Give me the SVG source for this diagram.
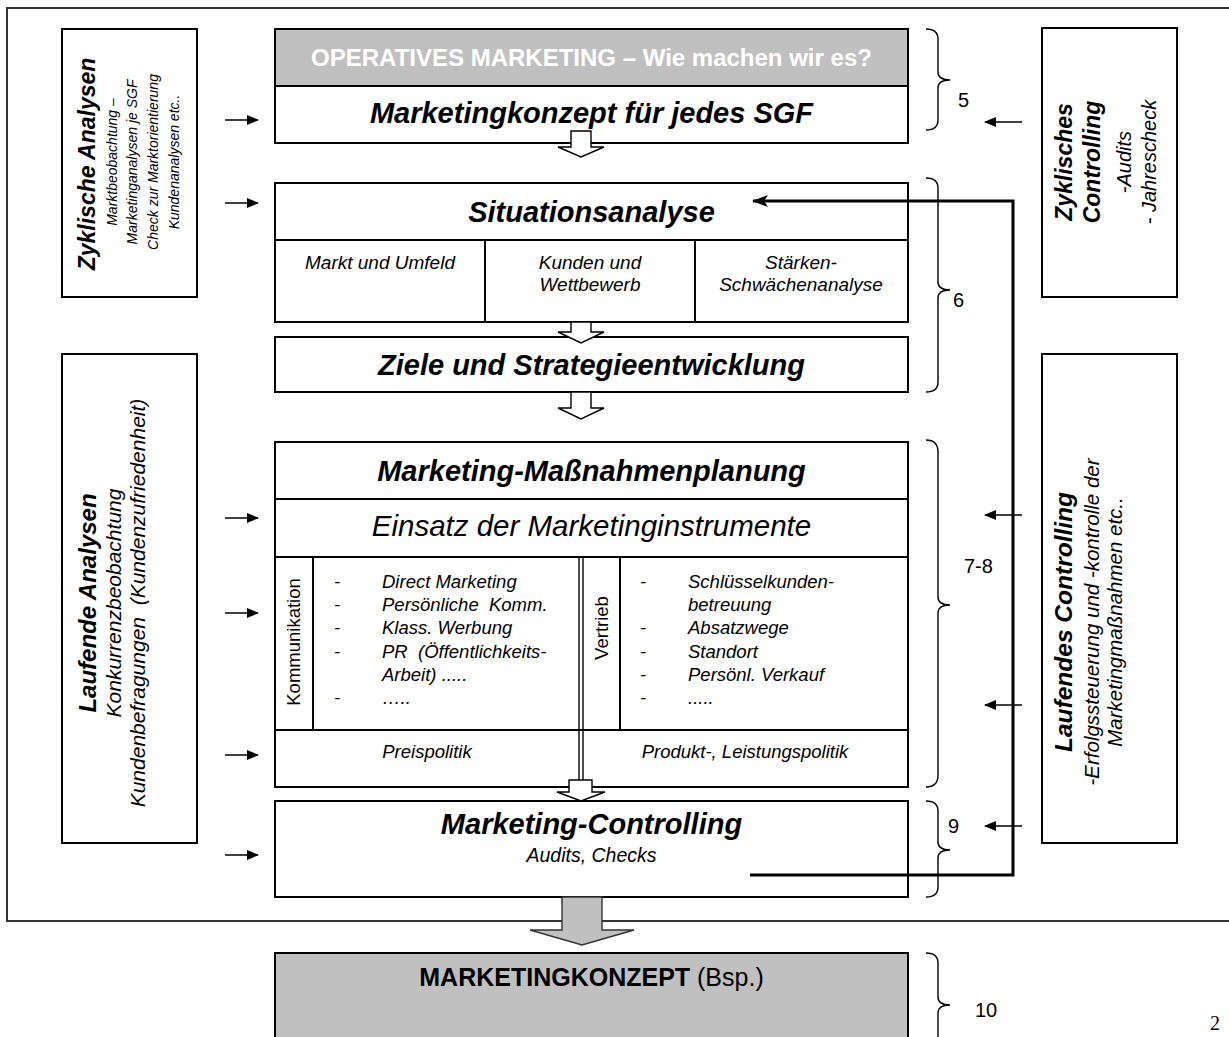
<svg xmlns="http://www.w3.org/2000/svg" width="1229" height="1037" viewBox="0 0 1229 1037">
<style>
.t{font-family:"Liberation Sans",Arial,sans-serif;fill:#000}
.bi{font-weight:bold;font-style:italic}
.i{font-style:italic}
.b{font-weight:bold}
.w{fill:#fff}
.box{fill:#fff;stroke:#000;stroke-width:2}
.gbox{fill:#c0c0c0;stroke:#000;stroke-width:2}
.ln{stroke:#000;stroke-width:2;fill:none}
.br{fill:none;stroke:#000;stroke-width:1.4}
.ha{fill:#fff;stroke:#000;stroke-width:1.4}
.ar{stroke:#000;stroke-width:1.6;fill:none;marker-end:url(#ah)}
.fb{stroke:#000;stroke-width:3;fill:none}
</style>
<defs>
<marker id="ah" viewBox="0 0 12 10" refX="11" refY="5" markerWidth="12" markerHeight="10" markerUnits="userSpaceOnUse" orient="auto"><path d="M0,0 L12,5 L0,10 z" fill="#000"/></marker>
<marker id="fh" viewBox="0 0 16 12" refX="15" refY="6" markerWidth="16" markerHeight="12" markerUnits="userSpaceOnUse" orient="auto"><path d="M0,0 L16,6 L0,12 L4,6 z" fill="#000"/></marker>
</defs>
<rect x="0" y="0" width="1229" height="1037" fill="#fff"/>
<rect id="frame" x="7" y="8" width="1240" height="913" fill="none" stroke="#333" stroke-width="2"/>

<g id="zyklische-analysen">
<rect class="box" x="62" y="29" width="135" height="268"/>
<text class="t bi" font-size="23" text-anchor="middle" transform="translate(95,164) rotate(-90)">Zyklische Analysen</text>
<text class="t i" font-size="14" text-anchor="middle" transform="translate(117,162) rotate(-90)">Marktbeobachtung –</text>
<text class="t i" font-size="14" text-anchor="middle" transform="translate(137,162) rotate(-90)">Marketinganalysen je SGF</text>
<text class="t i" font-size="14" text-anchor="middle" transform="translate(158,162) rotate(-90)">Check zur Marktorientierung</text>
<text class="t i" font-size="14" text-anchor="middle" transform="translate(179,162) rotate(-90)">Kundenanalysen etc..</text>
</g>

<g id="zyklisches-controlling">
<rect class="box" x="1042" y="28" width="135" height="269"/>
<text class="t bi" font-size="23" text-anchor="middle" transform="translate(1072,162) rotate(-90)">Zyklisches</text>
<text class="t bi" font-size="23" text-anchor="middle" transform="translate(1100,162) rotate(-90)">Controlling</text>
<text class="t i" font-size="20" text-anchor="middle" transform="translate(1131,162) rotate(-90)">-Audits</text>
<text class="t i" font-size="20" text-anchor="middle" transform="translate(1156,162) rotate(-90)">- Jahrescheck</text>
</g>

<g id="laufende-analysen">
<rect class="box" x="62" y="354" width="135" height="489"/>
<text class="t bi" font-size="24" text-anchor="middle" transform="translate(96,603) rotate(-90)">Laufende Analysen</text>
<text class="t i" font-size="21" text-anchor="middle" transform="translate(121,603) rotate(-90)">Konkurrenzbeobachtung</text>
<text class="t i" font-size="21" text-anchor="middle" style="white-space:pre" transform="translate(145,603) rotate(-90)">Kundenbefragungen  (Kundenzufriedenheit)</text>
</g>

<g id="laufendes-controlling">
<rect class="box" x="1042" y="354" width="135" height="489"/>
<text class="t bi" font-size="24.5" text-anchor="middle" transform="translate(1072,622) rotate(-90)">Laufendes Controlling</text>
<text class="t i" font-size="20.5" text-anchor="middle" transform="translate(1099,622) rotate(-90)">-Erfolgssteuerung und -kontrolle der</text>
<text class="t i" font-size="20.5" text-anchor="middle" transform="translate(1122,622) rotate(-90)">Marketingmaßnahmen etc..</text>
</g>

<g id="operatives-marketing">
<rect class="gbox" x="275" y="29" width="633" height="57"/>
<rect class="box" x="275" y="86" width="633" height="57"/>
<text class="t b w" font-size="24" text-anchor="middle" x="591.5" y="66">OPERATIVES MARKETING – Wie machen wir es?</text>
<text class="t bi" font-size="29" text-anchor="middle" x="591.5" y="123">Marketingkonzept für jedes SGF</text>
</g>

<g id="situationsanalyse">
<rect class="box" x="275" y="183" width="633" height="139"/>
<path class="ln" d="M275,240 H908 M485,240 V322 M695,240 V322"/>
<text class="t bi" font-size="29" text-anchor="middle" x="591.5" y="222">Situationsanalyse</text>
<text class="t i" font-size="19" text-anchor="middle" x="380" y="269">Markt und Umfeld</text>
<text class="t i" font-size="19" text-anchor="middle" x="590" y="269">Kunden und</text>
<text class="t i" font-size="19" text-anchor="middle" x="590" y="291">Wettbewerb</text>
<text class="t i" font-size="19" text-anchor="middle" x="801" y="269">Stärken-</text>
<text class="t i" font-size="19" text-anchor="middle" x="801" y="291">Schwächenanalyse</text>
</g>

<g id="ziele">
<rect class="box" x="275" y="337" width="633" height="55"/>
<text class="t bi" font-size="29" text-anchor="middle" x="591.5" y="375">Ziele und Strategieentwicklung</text>
</g>

<g id="massnahmenplanung">
<rect class="box" x="275" y="442" width="633" height="345"/>
<path class="ln" d="M275,499 H908 M275,557 H908 M275,730 H908 M313,557 V730 M620,557 V730"/>
<path d="M579,557 V787 M583,557 V787" stroke="#000" stroke-width="1.4" fill="none"/>
<text class="t bi" font-size="29" text-anchor="middle" x="591.5" y="481">Marketing-Maßnahmenplanung</text>
<text class="t i" font-size="29.5" text-anchor="middle" x="591.5" y="536">Einsatz der Marketinginstrumente</text>
<text class="t" font-size="18.5" text-anchor="middle" transform="translate(300,642) rotate(-90)">Kommunikation</text>
<text class="t" font-size="18.5" text-anchor="middle" transform="translate(608,628) rotate(-90)">Vertrieb</text>
<g class="t i" font-size="18.5">
<text x="334" y="588">-</text><text x="382" y="588">Direct Marketing</text>
<text x="334" y="611">-</text><text x="382" y="611" style="white-space:pre">Persönliche  Komm.</text>
<text x="334" y="634">-</text><text x="382" y="634">Klass. Werbung</text>
<text x="334" y="658">-</text><text x="382" y="658" style="white-space:pre">PR  (Öffentlichkeits-</text>
<text x="382" y="681">Arbeit) .....</text>
<text x="334" y="704">-</text><text x="382" y="704">…..</text>
<text x="640" y="588">-</text><text x="688" y="588">Schlüsselkunden-</text>
<text x="688" y="611">betreuung</text>
<text x="640" y="634">-</text><text x="688" y="634">Absatzwege</text>
<text x="640" y="658">-</text><text x="688" y="658">Standort</text>
<text x="640" y="681">-</text><text x="688" y="681">Persönl. Verkauf</text>
<text x="640" y="704">-</text><text x="688" y="704">.....</text>
</g>
<text class="t i" font-size="18.5" text-anchor="middle" x="427" y="758">Preispolitik</text>
<text class="t i" font-size="18.5" text-anchor="middle" x="745" y="758">Produkt-, Leistungspolitik</text>
</g>

<g id="marketing-controlling">
<rect class="box" x="275" y="801" width="633" height="96"/>
<text class="t bi" font-size="29" text-anchor="middle" x="591.5" y="834">Marketing-Controlling</text>
<text class="t i" font-size="19.5" text-anchor="middle" x="591.5" y="862">Audits, Checks</text>
</g>

<g id="marketingkonzept">
<rect class="gbox" x="275" y="953" width="633" height="97"/>
<text class="t" font-size="25" text-anchor="middle" x="591.5" y="986"><tspan class="b">MARKETINGKONZEPT</tspan> (Bsp.)</text>
</g>

<g id="connectors">
<path class="ha" d="M571,131 H591 V147 H604 L581,157 L558,147 H571 Z"/>
<path class="ha" d="M571,322 H591 V332 H604 L581,343 L558,332 H571 Z"/>
<path class="ha" d="M571,392 H591 V408 H604 L581,419 L558,408 H571 Z"/>
<path class="ha" d="M569,780 H592 V792 H605 L581,801 L557,792 H569 Z"/>
<path d="M562,897 H602 V930 H634 L582,945 L530,930 H562 Z" fill="#c0c0c0" stroke="#333" stroke-width="1.4"/>
<line class="ar" x1="225" y1="120" x2="258" y2="120"/>
<line class="ar" x1="225" y1="203" x2="258" y2="203"/>
<line class="ar" x1="225" y1="518" x2="258" y2="518"/>
<line class="ar" x1="225" y1="613" x2="258" y2="613"/>
<line class="ar" x1="225" y1="755" x2="258" y2="755"/>
<line class="ar" x1="225" y1="855" x2="258" y2="855"/>
<line class="ar" x1="1022" y1="122" x2="985" y2="122"/>
<line class="ar" x1="1022" y1="515" x2="985" y2="515"/>
<line class="ar" x1="1022" y1="705" x2="985" y2="705"/>
<line class="ar" x1="1022" y1="826" x2="985" y2="826"/>
<path class="fb" d="M750,875 H1013 V201 H753" marker-end="url(#fh)"/>
</g>

<g id="braces">
<path class="br" d="M926,29 Q938,29 938,39 V72 Q938,80 950,80 Q938,80 938,88 V120 Q938,130 926,130"/>
<path class="br" d="M926,178 Q938,178 938,188 V282 Q938,290 950,290 Q938,290 938,298 V382 Q938,392 926,392"/>
<path class="br" d="M926,440 Q938,440 938,452 V597 Q938,605 950,605 Q938,605 938,613 V775 Q938,787 926,787"/>
<path class="br" d="M926,801 Q938,801 938,811 V842 Q938,850 950,850 Q938,850 938,858 V887 Q938,897 926,897"/>
<path class="br" d="M926,953 Q938,953 938,963 V997 Q938,1005 950,1005 Q938,1005 938,1013 V1040"/>
<text class="t" font-size="20" x="958" y="107">5</text>
<text class="t" font-size="20" x="953" y="307">6</text>
<text class="t" font-size="20" x="964" y="573">7-8</text>
<text class="t" font-size="20" x="948" y="833">9</text>
<text class="t" font-size="20" x="975" y="1017">10</text>
</g>
<text font-family="'Liberation Serif',serif" font-size="20" x="1210" y="1030">2</text>
</svg>
